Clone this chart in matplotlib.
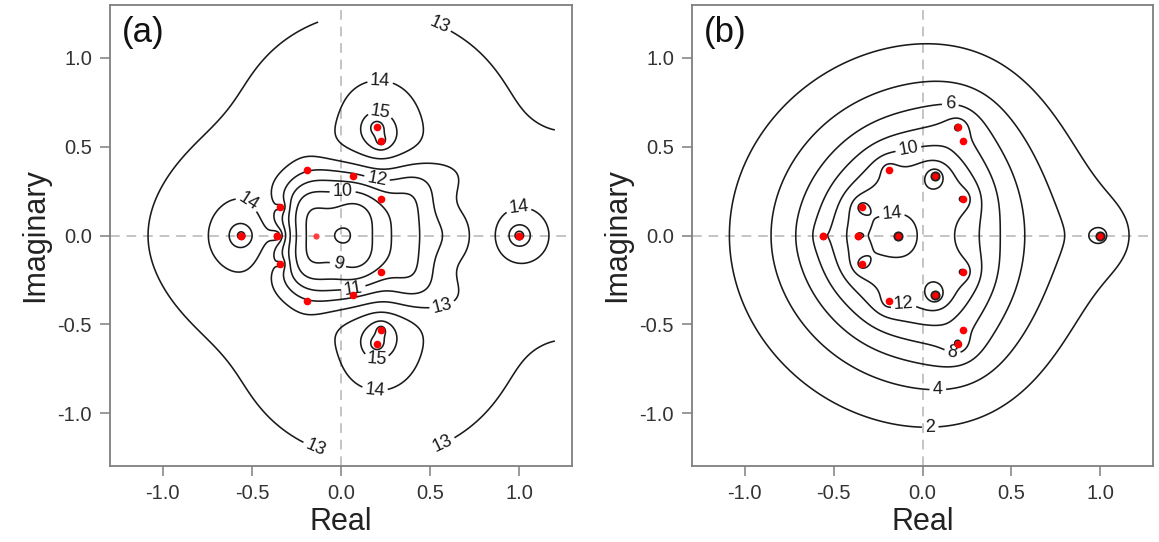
import numpy as np
import matplotlib
matplotlib.use('Agg')
import matplotlib.pyplot as plt

plt.rcParams['font.family'] = ['Liberation Sans', 'DejaVu Sans']

# roots (real ones and upper half of conjugate pairs), same in both panels
root_re = [-0.56, -0.36, -0.14, 1.00, 0.20, 0.225, -0.19, 0.07, 0.225, -0.34]
root_im = [0.0, 0.0, 0.0, 0.0, 0.61, 0.53, 0.37, 0.335, 0.205, 0.16]
ringed_b = [2, 3, 7]
faint_a = 2            # lighter dot in (a)
poles_a = [0, 1, 3, 4, 5, 9]   # roots that carry a peak in (a)

# contour points: level, x, y (upper half)
a_lev = [7.5, 8, 8, 8, 9, 9, 9, 9, 9, 9, 9,
         10, 10, 10, 10, 10, 10, 10, 10, 11, 11, 11, 11, 11, 12, 12, 12, 12, 12, 12, 12,
         13, 13, 13, 13, 13, 13, 13, 13, 13, 13, 13, 13, 13,
         13, 13, 13, 13, 13, 13, 13, 13, 13, 13, 13, 13,
         14, 14, 14, 14, 14, 14, 14, 14, 14, 14, 14, 14, 14, 14, 14, 14, 14, 14,
         15, 15, 15, 15, 15, 15, 15, 15, 15, 15]
a_x = [0, 0.056, -0.056, 0, 0.176, -0.17, 0, 0.123, -0.12, 0.152, -0.147,
       0.307, -0.264, 0.008, -0.1, -0.265, 0.21, -0.2, 0.1, 0.448, -0.292, 0.335, -0.1, -0.30,
       0.57, -0.311, 0.2, 0.52, -0.1, -0.32, 0.07,
       0.729, -0.329, 0.72, 0.672, 0.45, 0.318, 0.131, -0.096, -0.33, -0.225, -0.35, -0.27, -0.13,
       -1.088, -1.05, -0.919, -0.694, -0.507, -0.226, -0.048, 0.476, 0.635, 0.897, 1.084, 1.206,
       -0.75, -0.545, -0.46, -0.412, -0.56, -0.69, 0.869, 1.169, 1.0, -0.03, 0.466, 0.223, 0.22, 0.395, 0.045, 0.395, 0.045, -0.66,
       -0.626, -0.494, -0.56, 0.944, 1.066, 1.0, 0.092, 0.3, 0.2, 0.2]
a_y = [0, 0, 0, 0.056, 0, 0, 0.174, 0.123, 0.12, 0.088, 0.085,
       0, 0, 0.273, 0.265, 0.2, 0.19, 0.18, 0.26, 0, 0, 0.277, 0.305, 0.2,
       0, 0, 0.312, 0.22, 0.352, 0.2, 0.318,
       0, 0, 0.3, 0.39, 0.40, 0.36, 0.39, 0.436, 0.343, 0.44, 0.2, 0.43, 0.45,
       0, 0.2, 0.427, 0.653, 0.82, 1.12, 1.198, 1.2, 1.12, 0.876, 0.67, 0.543,
       0, 0.165, 0.155, 0.09, 0.17, 0.12, 0, 0, 0.165, 0.67, 0.665, 0.876, 0.446, 0.812, 0.812, 0.508, 0.508, 0.14,
       0, 0, 0.066, 0, 0, 0.06, 0.614, 0.61, 0.69, 0.474]
# rough values read between the lines of (a): plateau, ridge and corners
a_fill_lev = [13.5, 13.5, 13.5, 13.3, 13.4, 13.3, 13.5, 13.5, 13.5, 13.5, 13.5,
              12.8, 12.85, 12.85, 12.8, 13.05, 13.2, 13.5, 13.3, 12.7, 14.4, 12.6, 12.8, 12.85,
              13.5, 13.5, 13.4, 13.4, 13.3, 13.5, 13.3, 13.5, 9.6, 11.5, 12.5]
a_fill_x = [-0.9, -0.7, -0.4, -0.15, 0.3, 0.7, 0.85, 1.1, 0.6, -0.45, 0.8,
            -1.2, 1.2, -1.2, -1.2, 0.0, 0.2, 1.2, 1.2, -0.6, -0.44, -0.19, -1.0, 1.0,
            -0.45, -0.42, -0.35, -0.25, -0.1, 0.1, 0.8, 0.8, 0.25, 0.4, 0.5]
a_fill_y = [0.0, 0.4, 0.7, 1.0, 1.1, 0.8, 0.45, 0.3, 0.55, 0.4, 0.15,
            1.2, 1.2, 0.0, 0.6, 1.2, 1.2, 0.0, 0.3, 1.2, 0.0, 0.37, 0.9, 1.05,
            0.25, 0.35, 0.45, 0.52, 0.5, 0.45, 0.3, 0.0, 0.0, 0.1, 0.3]

# contour points
b_lev = [2, 2, 2, 2, 2, 2, 2, 2, 2, 2, 2,
         4, 4, 4, 4, 4, 4, 4,
         6, 6, 6, 6, 6,
         8, 8, 8, 8, 8, 8, 8,
         10, 10, 10, 10, 10, 10, 10,
         12, 12, 12, 12, 12, 12,
         14, 14, 14, 14, 14, 14]
b_x = [-1.065, -0.965, -0.78, 0, 0.4, 0.643, 0.905, 0.981, 1.054, 1.148, 1.167,
       -0.856, -0.62, 0, 0.52, 0.643, 0.683, 0.755,
       -0.734, -0.612, 0, 0.156, 0.586,
       -0.63, -0.425, -0.238, 0, 0.2, 0.333, 0.446,
       -0.5, -0.369, -0.18, -0.079, 0.006, 0.277, 0.328,
       -0.397, -0.33, -0.238, -0.087, 0.006, 0.174,
       -0.03, -0.172, -0.37, -0.256, -0.079, -0.378]
b_y = [0, 0.5, 0.75, 1.054, 0.93, 0.726, 0.5, 0.277, 0.202, 0.127, 0,
       0, 0.6, 0.848, 0.6, 0.483, 0.35, 0,
       0, 0.277, 0.727, 0.73, 0,
       0, 0.333, 0.54, 0.67, 0.655, 0.37, 0,
       0, 0.277, 0.474, 0.483, 0.52, 0.37, 0,
       0, 0.22, 0.37, 0.37, 0.408, 0,
       0, 0.118, 0.08, 0.146, 0.09, 0.09]
b_fill_lev = [1.2, 1.2, 1.6, 1.5, 1.3, 1.4]
b_fill_x = [-1.2, 1.2, -1.2, 0.0, 1.2, 0.6]
b_fill_y = [1.2, 1.2, 0.0, 1.2, 0.5, 1.2]

levels_a = np.arange(8, 17)
levels_b = np.arange(2, 15, 2)

# label spots
lab_a = [(0.54, 1.157), (-0.133, -1.165), (0.56, -1.146), (0.568, -0.397), (0.22, 0.87),
         (0.22, 0.69), (0.2, -0.69), (0.19, -0.87), (-0.545, 0.156), (0.999, 0.13),
         (0.2, 0.312), (0.008, 0.273), (-0.02, -0.172), (0.07, -0.3)]
lab_b = [(0.156, 0.73), (-0.079, 0.483), (-0.172, 0.118), (-0.106, -0.397),
         (0.165, -0.669), (0.086, -0.855), (0.043, -1.062)]

# bump centres for the smooth part of (a)
bump_x = [-0.35, -0.2, -0.05, 0.1, 0.25, 0.4, 0.55]
bump_y = [0.0, 0.15, 0.3, 0.45]
bump_w = 0.12


def root_logs(x, y, use):
    cols = []
    for i in use:
        re, im = root_re[i], root_im[i]
        t = -0.5 * np.log((x - re)**2 + (y - im)**2 + 1e-12)
        if im != 0:
            t = t - 0.5 * np.log((x - re)**2 + (y + im)**2 + 1e-12)
        cols.append(t)
    return cols


def basis_a(x, y):
    r = np.hypot(x, y)
    cols = [np.ones_like(x), r, r**2, r**3, r**4, x, x * r, x * r**2, x**2, x**3, y**2 * r]
    for bx in bump_x:
        for by in bump_y:
            g = np.exp(-((x - bx)**2 + (y - by)**2) / (2 * bump_w**2))
            if by != 0:
                g = g + np.exp(-((x - bx)**2 + (y + by)**2) / (2 * bump_w**2))
            cols.append(g)
    return np.stack(cols + root_logs(x, y, poles_a), axis=-1)


def basis_b(x, y):
    cols = [np.ones_like(x), x, x**2 + y**2]
    return np.stack(cols + root_logs(x, y, range(len(root_re))), axis=-1)


def fit(basis, px, py, lev, w, lam=1e-4):
    # least squares through the traced points
    A = basis(np.array(px, float), np.array(py, float)) * np.array(w)[:, None]
    L = np.array(lev, float) * np.array(w)
    n = A.shape[1]
    return np.linalg.solve(A.T @ A + lam * np.eye(n), A.T @ L)


wa = [1.0] * len(a_lev) + [0.6] * len(a_fill_lev)
wb = [1.0] * len(b_lev) + [0.4] * len(b_fill_lev)
ca = fit(basis_a, a_x + a_fill_x, a_y + a_fill_y, a_lev + a_fill_lev, wa, lam=2e-3)
cb = fit(basis_b, b_x + b_fill_x, b_y + b_fill_y, b_lev + b_fill_lev, wb, lam=1e-5)

gx = np.linspace(-1.2, 1.2, 480)
X, Y = np.meshgrid(gx, gx)
Za = basis_a(X, Y) @ ca
Zb = basis_b(X, Y) @ cb

fig = plt.figure(figsize=(11.59, 5.42), dpi=100)
ax_a = fig.add_axes([110 / 1159, 76 / 542, 462 / 1159, 461 / 542])
ax_b = fig.add_axes([692 / 1159, 76 / 542, 461 / 1159, 461 / 542])

ticks = [-1.0, -0.5, 0.0, 0.5, 1.0]
tick_txt = ['-1.0', '-0.5', '0.0', '0.5', '1.0']

for ax, Z, lev, labs, tag in [(ax_a, Za, levels_a, lab_a, '(a)'), (ax_b, Zb, levels_b, lab_b, '(b)')]:
    ax.axhline(0, color='#c4c4c4', lw=1.4, ls=(0, (5, 3.5)), zorder=0)
    ax.axvline(0, color='#c4c4c4', lw=1.4, ls=(0, (5, 3.5)), zorder=0)
    cs = ax.contour(X, Y, Z, levels=lev, colors='#1a1a1a', linewidths=1.15)
    ax.clabel(cs, manual=labs, fmt='%d', fontsize=13, inline=True, inline_spacing=4)
    ax.set_xlim(-1.296, 1.296)
    ax.set_ylim(-1.296, 1.296)
    ax.set_xticks(ticks)
    ax.set_xticklabels(tick_txt)
    ax.set_yticks(ticks)
    ax.set_yticklabels(tick_txt)
    for sp in ax.spines.values():
        sp.set_color('#7f7f7f')
        sp.set_linewidth(1.3)
    ax.tick_params(direction='out', length=7, width=1.1, color='#7f7f7f',
                   labelsize=14.5, labelcolor='#333333', pad=6)
    ax.set_xlabel('Real', fontsize=22, color='#222222', labelpad=3)
    ax.set_ylabel('Imaginary', fontsize=22, color='#222222', labelpad=5)
    ax.text(0.025, 0.94, tag, transform=ax.transAxes, fontsize=25, va='center', ha='left', color='#111111')

# roots
rx = np.array(root_re + root_re)
ry = np.array(root_im + [-v for v in root_im])
ax_b.plot(rx, ry, 'o', color='red', ms=5.5, mec='none', zorder=5)
keep = [i for i in range(len(rx)) if i % len(root_re) != faint_a]
ax_a.plot(rx[keep], ry[keep], 'o', color='red', ms=5.5, mec='none', zorder=5)
ax_a.plot(root_re[faint_a], 0, 'o', color='#ff4040', ms=4.5, mec='none', zorder=5)
ax_b.plot([root_re[i] for i in ringed_b] + [root_re[7]], [root_im[i] for i in ringed_b] + [-root_im[7]],
          'o', color='red', ms=6, mec='#222222', mew=1.3, zorder=6)

fig.savefig('out.png', dpi=100)
